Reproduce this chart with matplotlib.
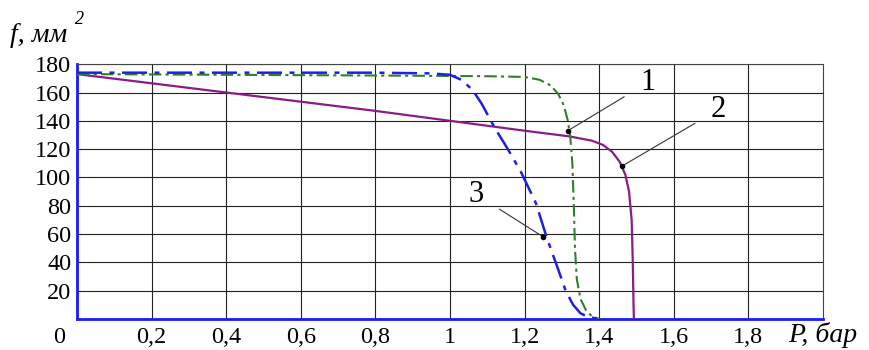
import matplotlib
matplotlib.use('Agg')
import matplotlib.pyplot as plt
import matplotlib.transforms as mtransforms

# curve 1 (green, dash-dot)
x1 = [0, 0.4, 0.8, 1.1, 1.2, 1.24, 1.27, 1.29, 1.305, 1.315, 1.322, 1.328, 1.332, 1.335, 1.34, 1.35, 1.365, 1.38, 1.40]
y1 = [173, 172.5, 172, 171.5, 171, 169, 165, 159, 151, 141, 130, 110, 80, 50, 28, 14, 6, 2, 0]

# curve 2 (purple, solid)
x2 = [0, 0.4, 0.8, 1.0, 1.2, 1.32, 1.38, 1.41, 1.435, 1.455, 1.47, 1.48, 1.487, 1.49, 1.492, 1.493]
y2 = [173, 160, 147, 140, 133, 129, 126, 123, 118, 111, 102, 90, 70, 40, 10, 0]

# curve 3 (blue, long dash-dot)
x3 = [0, 0.4, 0.8, 0.95, 1.0, 1.03, 1.06, 1.085, 1.12, 1.155, 1.19, 1.23, 1.26, 1.29, 1.31, 1.33, 1.35, 1.37, 1.40]
y3 = [174, 174, 174, 173.5, 172.5, 169, 162, 152, 135, 120, 104, 82, 57, 35, 20, 10, 4, 1.5, 0]

xticks = [0, 0.2, 0.4, 0.6, 0.8, 1.0, 1.2, 1.4, 1.6, 1.8]
xlabels = ['0', '0,2', '0,4', '0,6', '0,8', '1', '1,2', '1,4', '1,6', '1,8']
yticks = [20, 40, 60, 80, 100, 120, 140, 160, 180]

# callouts: label, label pos, point on curve
labels = ['1', '2', '3']
label_xy = [(1.53, 167), (1.72, 148), (1.07, 88)]
point_xy = [(1.316, 133), (1.461, 108), (1.25, 58)]

serif = ['Liberation Serif', 'DejaVu Serif']

fig = plt.figure(figsize=(8.7, 3.5), dpi=100)
ax = fig.add_axes([0.0885, 0.0886, 0.8575, 0.728])

ax.plot(x2, y2, color='#8a1c8a', lw=1.6, zorder=3)
ax.plot(x1, y1, color='#2f7f2f', lw=1.5, dashes=(6, 2, 1.5, 2), zorder=3)
ax.plot(x3, y3, color='#1f1fe6', lw=1.8, dashes=(10, 3, 2, 3), zorder=3)

for lab, (lx, ly), (px, py) in zip(labels, label_xy, point_xy):
    ax.annotate(lab, xy=(px, py), xytext=(lx, ly), fontsize=22, family=serif,
                ha='center', va='center',
                arrowprops=dict(arrowstyle='-', color='#333333', lw=0.8, shrinkA=11, shrinkB=0))
    ax.plot([px], [py], 'o', color='black', ms=3, zorder=4)

ax.set_xlim(0, 2.0)
ax.set_ylim(0, 180)
ax.set_xticks(xticks)
ax.set_xticklabels(xlabels)
ax.set_yticks(yticks)
ax.grid(True, color='#222222', lw=0.8)
ax.tick_params(length=0, labelsize=17.5)
ax.tick_params(axis='y', pad=4)
ax.tick_params(axis='x', pad=6)
for t in ax.get_xticklabels() + ax.get_yticklabels():
    t.set_family(serif)

# the "0" sits left of the axis corner
zero = ax.get_xticklabels()[0]
zero.set_transform(zero.get_transform() + mtransforms.ScaledTranslation(-0.18, 0, fig.dpi_scale_trans))

for s in ['left', 'bottom']:
    ax.spines[s].set_color('#1a1aff')
    ax.spines[s].set_linewidth(2)
for s in ['top', 'right']:
    ax.spines[s].set_color('#444444')
    ax.spines[s].set_linewidth(0.8)

fig.text(0.012, 0.88, 'f, мм', fontsize=20, style='italic', family=serif)
fig.text(0.086, 0.93, '2', fontsize=13, style='italic', family=serif)
fig.text(0.906, 0.022, 'P, бар', fontsize=20, style='italic', family=serif)

fig.savefig('out.png', dpi=100)
